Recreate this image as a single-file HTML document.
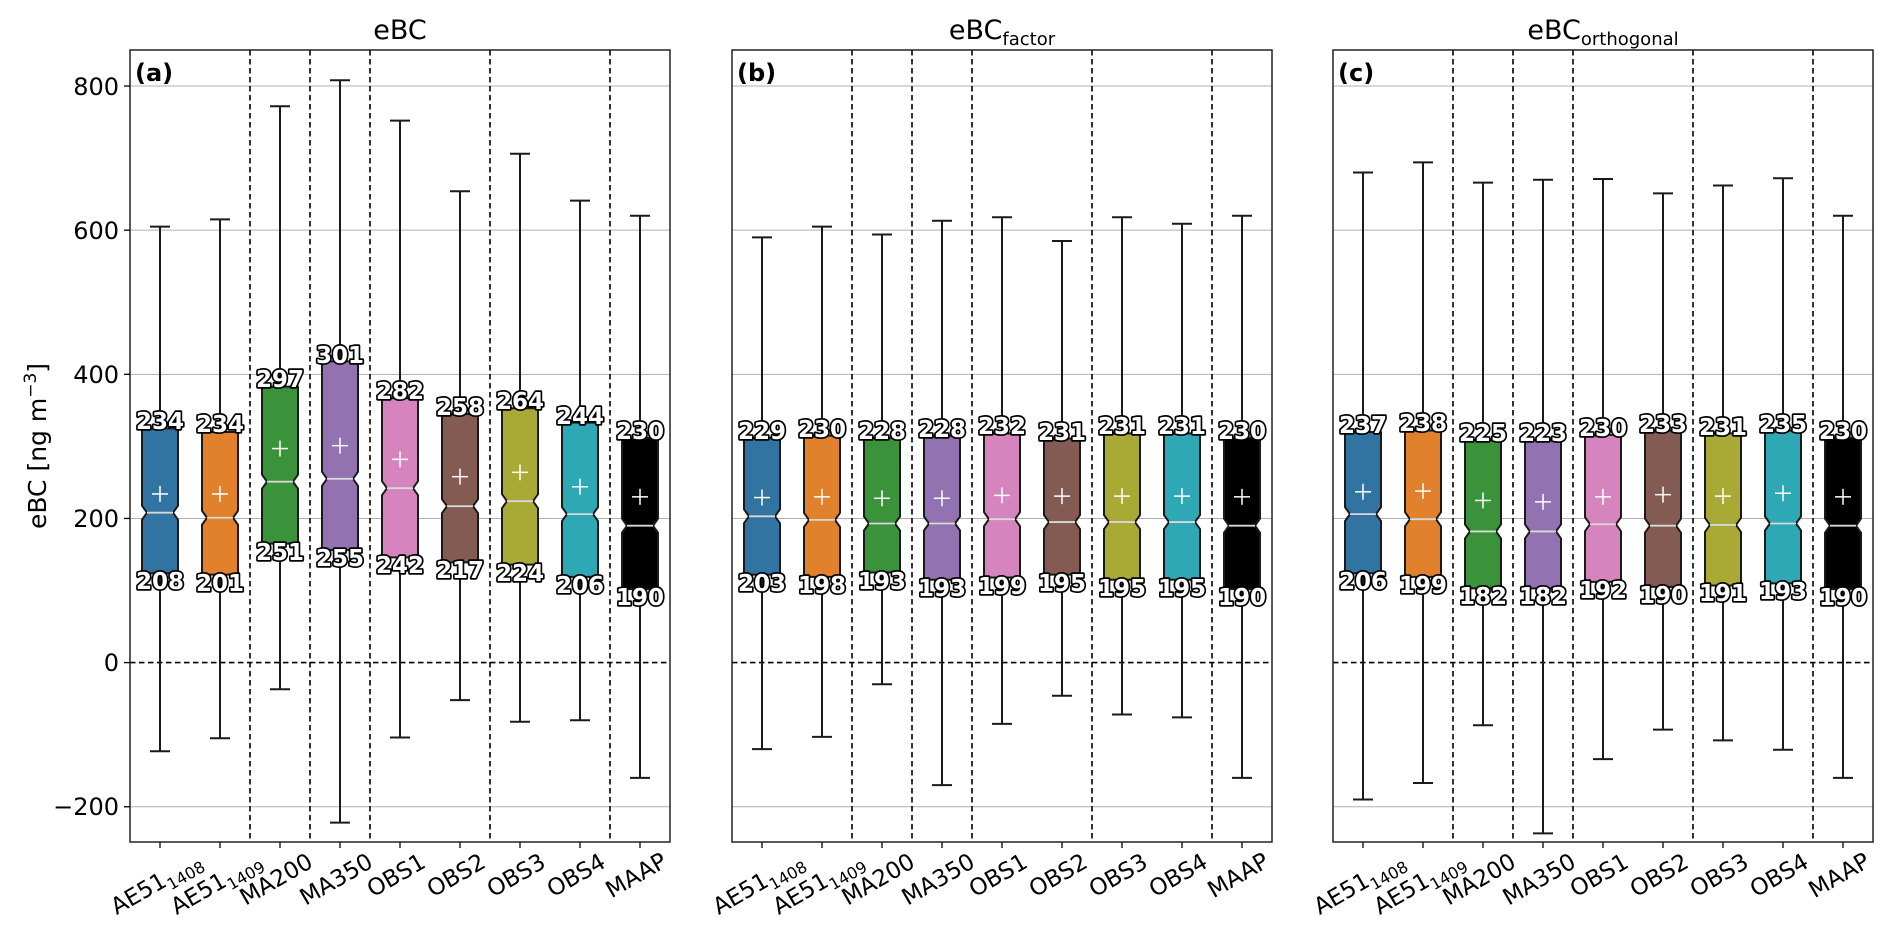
<!DOCTYPE html>
<html><head><meta charset="utf-8"><style>
html,body{margin:0;padding:0;background:#fff}
svg{display:block;font-family:"DejaVu Sans","Liberation Sans",sans-serif}
.lb{font-weight:bold;font-size:23px;fill:#fff;stroke:#000;stroke-width:3.4px;paint-order:stroke;stroke-linejoin:round;text-anchor:middle}
.yt{font-size:24px;text-anchor:end}
.xt{font-size:23px;text-anchor:middle}
.sub{font-size:16px}
.pl{font-weight:bold;font-size:24px}
.ti{font-size:27px;text-anchor:middle}
</style></head><body>
<svg id="s" width="1892" height="939" viewBox="0 0 1892 939" xmlns="http://www.w3.org/2000/svg">
<g id="shapes"></g>
<text class="ti" x="400" y="39">eBC</text>
<text class="ti" x="1002" y="39">eBC<tspan font-size="18" dy="6">factor</tspan></text>
<text class="ti" x="1603" y="39">eBC<tspan font-size="18" dy="6">orthogonal</tspan></text>
<text class="pl" x="135" y="81">(a)</text>
<text class="pl" x="737" y="81">(b)</text>
<text class="pl" x="1338" y="81">(c)</text>
<text class="yt" x="119" y="95">800</text>
<text class="yt" x="119" y="239">600</text>
<text class="yt" x="119" y="383">400</text>
<text class="yt" x="119" y="527">200</text>
<text class="yt" x="119" y="671">0</text>
<text class="yt" x="119" y="815">−200</text>
<text transform="translate(46,446) rotate(-90)" font-size="25" text-anchor="middle">eBC [ng m<tspan font-size="17" dy="-10">−3</tspan><tspan dy="10">]</tspan></text>
<g class="xt">
<text transform="translate(160,890) rotate(-30)">AE51<tspan class="sub" dy="6">1408</tspan></text>
<text transform="translate(220,890) rotate(-30)">AE51<tspan class="sub" dy="6">1409</tspan></text>
<text transform="translate(280,886) rotate(-30)">MA200</text>
<text transform="translate(340,886) rotate(-30)">MA350</text>
<text transform="translate(400,882) rotate(-30)">OBS1</text>
<text transform="translate(460,882) rotate(-30)">OBS2</text>
<text transform="translate(520,882) rotate(-30)">OBS3</text>
<text transform="translate(580,882) rotate(-30)">OBS4</text>
<text transform="translate(640,882) rotate(-30)">MAAP</text>

<text transform="translate(762,890) rotate(-30)">AE51<tspan class="sub" dy="6">1408</tspan></text>
<text transform="translate(822,890) rotate(-30)">AE51<tspan class="sub" dy="6">1409</tspan></text>
<text transform="translate(882,886) rotate(-30)">MA200</text>
<text transform="translate(942,886) rotate(-30)">MA350</text>
<text transform="translate(1002,882) rotate(-30)">OBS1</text>
<text transform="translate(1062,882) rotate(-30)">OBS2</text>
<text transform="translate(1122,882) rotate(-30)">OBS3</text>
<text transform="translate(1182,882) rotate(-30)">OBS4</text>
<text transform="translate(1242,882) rotate(-30)">MAAP</text>

<text transform="translate(1363,890) rotate(-30)">AE51<tspan class="sub" dy="6">1408</tspan></text>
<text transform="translate(1423,890) rotate(-30)">AE51<tspan class="sub" dy="6">1409</tspan></text>
<text transform="translate(1483,886) rotate(-30)">MA200</text>
<text transform="translate(1543,886) rotate(-30)">MA350</text>
<text transform="translate(1603,882) rotate(-30)">OBS1</text>
<text transform="translate(1663,882) rotate(-30)">OBS2</text>
<text transform="translate(1723,882) rotate(-30)">OBS3</text>
<text transform="translate(1783,882) rotate(-30)">OBS4</text>
<text transform="translate(1843,882) rotate(-30)">MAAP</text>
</g>
<g id="labels">
<text class="lb" x="160" y="429">234</text><text class="lb" x="160" y="589">208</text>
<text class="lb" x="220" y="432">234</text><text class="lb" x="220" y="591">201</text>
<text class="lb" x="280" y="387">297</text><text class="lb" x="280" y="560">251</text>
<text class="lb" x="340" y="363">301</text><text class="lb" x="340" y="566">255</text>
<text class="lb" x="400" y="399">282</text><text class="lb" x="400" y="573">242</text>
<text class="lb" x="460" y="415">258</text><text class="lb" x="460" y="578">217</text>
<text class="lb" x="520" y="409">264</text><text class="lb" x="520" y="581">224</text>
<text class="lb" x="580" y="424">244</text><text class="lb" x="580" y="593">206</text>
<text class="lb" x="640" y="439">230</text><text class="lb" x="640" y="605">190</text>

<text class="lb" x="762" y="439">229</text><text class="lb" x="762" y="591">203</text>
<text class="lb" x="822" y="437">230</text><text class="lb" x="822" y="593">198</text>
<text class="lb" x="882" y="439">228</text><text class="lb" x="882" y="589">193</text>
<text class="lb" x="942" y="437">228</text><text class="lb" x="942" y="596">193</text>
<text class="lb" x="1002" y="434">232</text><text class="lb" x="1002" y="594">199</text>
<text class="lb" x="1062" y="440">231</text><text class="lb" x="1062" y="591">195</text>
<text class="lb" x="1122" y="434">231</text><text class="lb" x="1122" y="596">195</text>
<text class="lb" x="1182" y="434">231</text><text class="lb" x="1182" y="596">195</text>
<text class="lb" x="1242" y="439">230</text><text class="lb" x="1242" y="605">190</text>

<text class="lb" x="1363" y="433">237</text><text class="lb" x="1363" y="589">206</text>
<text class="lb" x="1423" y="431">238</text><text class="lb" x="1423" y="593">199</text>
<text class="lb" x="1483" y="441">225</text><text class="lb" x="1483" y="604">182</text>
<text class="lb" x="1543" y="441">223</text><text class="lb" x="1543" y="604">182</text>
<text class="lb" x="1603" y="436">230</text><text class="lb" x="1603" y="598">192</text>
<text class="lb" x="1663" y="432">233</text><text class="lb" x="1663" y="603">190</text>
<text class="lb" x="1723" y="435">231</text><text class="lb" x="1723" y="601">191</text>
<text class="lb" x="1783" y="432">235</text><text class="lb" x="1783" y="599">193</text>
<text class="lb" x="1843" y="439">230</text><text class="lb" x="1843" y="605">190</text>
</g>
</svg>
<script>
(function(){
var NS="http://www.w3.org/2000/svg",g=document.getElementById('shapes');
function Y(v){return 662.6-0.7207*v;}
function el(t,a){var e=document.createElementNS(NS,t);for(var k in a)e.setAttribute(k,a[k]);g.appendChild(e);return e;}
var cols=["#3274a1","#e1812c","#3a923a","#9372b2","#d684bd","#845b53","#a9aa35","#2ea8b5","#000000"];
var lefts=[130,732,1333];
var D=[
[[124,325,-123,605,208,234],[122,320,-105,615,201,234],[165,383,-37,772,251,297],[156,418,-222,808,255,301],[146,367,-104,752,242,282],[139,345,-52,654,217,258],[136,353,-82,706,224,264],[119,333,-80,641,206,244],[102,312,-160,620,190,230]],
[[122,312,-120,590,203,229],[119,315,-103,605,198,230],[125,312,-30,594,193,228],[115,315,-170,613,193,228],[118,318,-85,618,199,232],[122,311,-46,585,195,231],[115,318,-72,618,195,231],[115,318,-76,609,195,231],[102,312,-160,620,190,230]],
[[124,320,-190,680,206,237],[119,322,-167,694,199,238],[103,309,-87,666,182,225],[103,309,-237,670,182,223],[112,316,-134,671,192,230],[105,322,-93,651,190,233],[107,318,-108,662,191,231],[110,322,-121,672,193,235],[102,312,-160,620,190,230]]];
lefts.forEach(function(L,p){
  [-200,200,400,600,800].forEach(function(v){
    el('line',{x1:L,x2:L+540,y1:Y(v),y2:Y(v),stroke:'#b0b0b0','stroke-width':1});
  });
  [120,180,240,360,480].forEach(function(dx){
    el('line',{x1:L+dx,x2:L+dx,y1:50,y2:842,stroke:'#000','stroke-width':1.6,'stroke-dasharray':'5.5,3.5'});
  });
  el('line',{x1:L,x2:L+540,y1:Y(0),y2:Y(0),stroke:'#000','stroke-width':1.6,'stroke-dasharray':'5.5,3.5'});
  D[p].forEach(function(d,i){
    var c=L+30+60*i,q1=Y(d[0]),q3=Y(d[1]),lo=Y(d[2]),hi=Y(d[3]),m=Y(d[4]),mn=Y(d[5]);
    var st='#1a1a1a',sw=2;
    el('line',{x1:c,x2:c,y1:q3,y2:hi,stroke:st,'stroke-width':sw});
    el('line',{x1:c,x2:c,y1:q1,y2:lo,stroke:st,'stroke-width':sw});
    el('line',{x1:c-10,x2:c+10,y1:hi,y2:hi,stroke:st,'stroke-width':sw});
    el('line',{x1:c-10,x2:c+10,y1:lo,y2:lo,stroke:st,'stroke-width':sw});
    var h=18,n=7,ins=5;
    var dpath='M'+(c-h)+','+q1+' L'+(c+h)+','+q1+' L'+(c+h)+','+(m+n)+' L'+(c+h-ins)+','+m+' L'+(c+h)+','+(m-n)+' L'+(c+h)+','+q3+' L'+(c-h)+','+q3+' L'+(c-h)+','+(m-n)+' L'+(c-h+ins)+','+m+' L'+(c-h)+','+(m+n)+' Z';
    el('path',{d:dpath,fill:cols[i],stroke:st,'stroke-width':sw,'stroke-linejoin':'round'});
    el('line',{x1:c-h+ins,x2:c+h-ins,y1:m,y2:m,stroke:'#d8d8d8','stroke-width':1.8});
    el('line',{x1:c-8,x2:c+8,y1:mn,y2:mn,stroke:'#fff','stroke-width':1.5});
    el('line',{x1:c,x2:c,y1:mn-8,y2:mn+8,stroke:'#fff','stroke-width':1.5});
    el('line',{x1:c,x2:c,y1:842,y2:848,stroke:'#000','stroke-width':1.3});
  });
  el('rect',{x:L,y:50,width:540,height:792,fill:'none',stroke:'#222','stroke-width':1.5});
});
[-200,0,200,400,600,800].forEach(function(v){el('line',{x1:124,x2:130,y1:Y(v),y2:Y(v),stroke:'#000','stroke-width':1.3});});
})();
</script>
</body></html>
